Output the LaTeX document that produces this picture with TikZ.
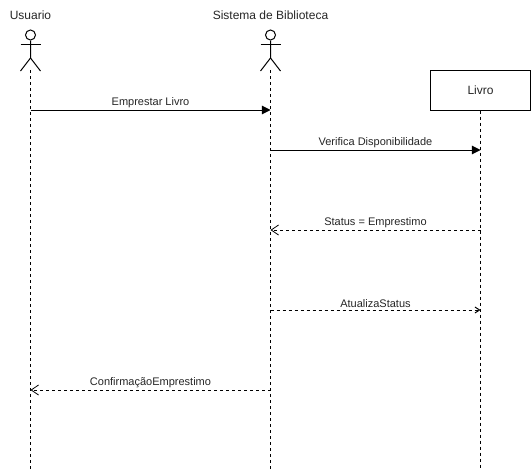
\documentclass[tikz,border=0pt]{standalone}
\usepackage{fontspec}
\setmainfont{Liberation Sans}
\usetikzlibrary{arrows.meta}
\tikzstyle{head} = [circle, minimum size=7.5pt, inner sep=0pt, draw=black, line width=0.75pt]
\tikzstyle{title} = [font=\fontsize{9}{11}\selectfont, text=black!85, inner sep=0pt]
\tikzstyle{msgtext} = [midway, above=1.6pt, font=\fontsize{8.25}{10}\selectfont, text=black!85, inner sep=0pt]
\tikzstyle{process} = [rectangle, minimum width=75pt, minimum height=30pt, inner sep=0pt, text centered, draw=black, line width=0.75pt, font=\fontsize{9}{11}\selectfont, text=black!85]
\tikzstyle{limb} = [black, line width=0.75pt]
\tikzstyle{lifeline} = [black, line width=0.75pt, dash pattern=on 2.25pt off 2.25pt]
\tikzstyle{arrow} = [black, line width=0.75pt, -{Triangle[length=6.5pt,width=6.5pt]}]
\tikzstyle{reply} = [black, line width=0.75pt, dash pattern=on 2.25pt off 2.25pt, -{Straight Barb[length=5.5pt,width=7.5pt,line width=0.6pt]}]
\tikzstyle{update} = [black, line width=0.75pt, dash pattern=on 2.25pt off 2.25pt, -{Straight Barb[length=3.5pt,width=4.5pt,line width=0.75pt]}]

\begin{document}
\begin{tikzpicture}[x=0.75pt, y=-0.75pt]
	\useasboundingbox (0,0) rectangle (531,471);
	\fill [white] (0,0) rectangle (531,471);
	\node (usuario) [title] at (30.5,15) {Usuario};
	\node (sistema) [title] at (270.5,15) {Sistema de Biblioteca};
	\node (livro) [process] at (480.5,90) {Livro};
	\node (head1) [head] at (30.5,35) {};
	\node (head2) [head] at (270.5,35) {};
	% stick figures
	\foreach \who in {head1, head2} {
		\draw [limb] (\who.south) -- ++(0,17.5) coordinate (hip) -- ++(-10,13);
		\draw [limb] (hip) -- ++(10,13);
		\draw [limb] (\who.south) ++(-10,3.5) -- ++(20,0);
	}
	% lifelines
	\coordinate (uTop) at (30.5,70);
	\coordinate (uEnd) at (30.5,470);
	\coordinate (sTop) at (270.5,70);
	\coordinate (sEnd) at (270.5,470);
	\coordinate (lEnd) at (480.5,468);
	\draw [lifeline] (uTop) -- (uEnd);
	\draw [lifeline] (sTop) -- (sEnd);
	\draw [lifeline] (livro) -- (lEnd);
	% messages
	\coordinate (u1) at (30.5,110);
	\coordinate (s1) at (270.5,110);
	\coordinate (s2) at (270.5,150);
	\coordinate (l2) at (480.5,150);
	\coordinate (l3) at (480.5,230);
	\coordinate (s3) at (270.5,230);
	\coordinate (s4) at (270.5,310);
	\coordinate (l4) at (480.5,310);
	\coordinate (s5) at (270.5,390);
	\coordinate (u5) at (30.5,390);
	\draw [arrow] (u1) -- node[msgtext]{Emprestar Livro} (s1);
	\draw [arrow] (s2) -- node[msgtext]{Verifica Disponibilidade} (l2);
	\draw [reply] (l3) -- node[msgtext]{Status = Emprestimo} (s3);
	\draw [update] (s4) -- node[msgtext]{AtualizaStatus} (l4);
	\draw [reply] (s5) -- node[msgtext]{ConfirmaçãoEmprestimo} (u5);
\end{tikzpicture}
\end{document}
